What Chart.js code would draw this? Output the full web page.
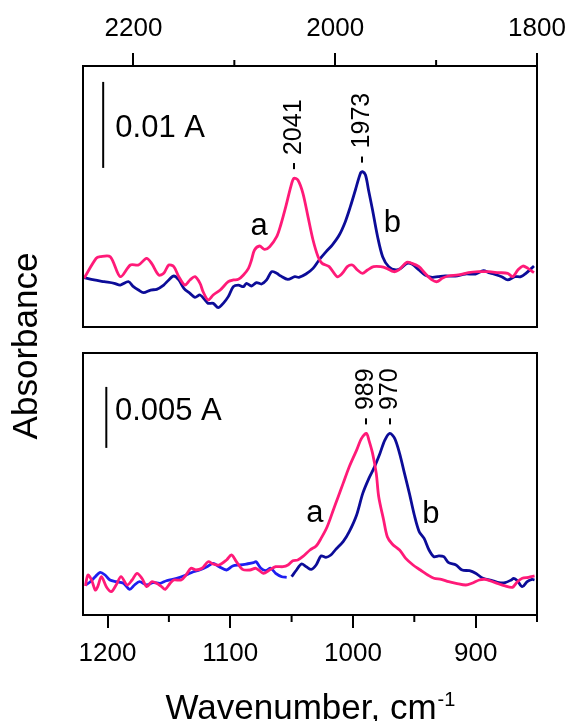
<!DOCTYPE html>
<html>
<head>
<meta charset="utf-8">
<title>IR difference spectra</title>
<script src="https://cdn.jsdelivr.net/npm/chart.js@4.4.0/dist/chart.umd.min.js"></script>
<style>
  html, body { margin: 0; padding: 0; background: #fff; }
  #wrap { position: relative; width: 568px; height: 721px; overflow: hidden; }
  #bottomBox { position: absolute; left: 0; top: 0; width: 568px; height: 721px; }
  #topBox { position: absolute; left: 0; top: 0; width: 568px; height: 340px; }
</style>
</head>
<body>
<div id="wrap">
  <div id="bottomBox"><canvas id="bottomChart"></canvas></div>
  <div id="topBox"><canvas id="topChart"></canvas></div>
</div>
<script>
// Absorbance in mA (1 mA = 0.001 A), wavenumbers in cm-1

// Upper panel, 2250-1800 cm-1
const topWnA = [2249, 2237, 2233, 2223, 2213, 2203, 2195, 2187, 2182, 2175, 2170, 2165, 2160, 2155, 2149, 2144, 2139, 2134, 2131, 2126, 2121, 2114, 2106, 2101, 2096, 2091, 2086, 2083, 2080, 2075, 2070, 2065, 2058, 2054, 2049, 2044, 2041, 2037, 2032, 2027, 2022, 2017, 2013, 2006, 1998, 1993, 1988, 1983, 1978, 1973, 1968, 1962, 1955, 1949, 1942, 1937, 1929, 1924, 1917, 1911, 1904, 1899, 1894, 1888, 1878, 1868, 1858, 1848, 1838, 1829, 1824, 1819, 1814, 1809, 1803];
const topAbsA = [5.66, 7.98, 8.18, 8.18, 5.85, 7.21, 7.21, 7.98, 7.4, 6.05, 6.24, 7.21, 7.02, 5.85, 4.88, 5.47, 5.85, 5.08, 4.11, 3.14, 3.72, 4.3, 5.27, 5.47, 5.54, 6.05, 6.82, 7.79, 8.95, 9.42, 9.03, 9.34, 10.5, 11.86, 13.99, 16.32, 17.29, 17.09, 15.54, 12.83, 10.12, 8.18, 7.4, 7.02, 5.85, 6.24, 7.02, 7.21, 6.63, 6.24, 6.63, 7.02, 7.02, 6.82, 6.43, 6.63, 7.52, 7.4, 7.02, 6.24, 5.47, 5.27, 5.66, 5.93, 6.05, 6.32, 6.43, 6.43, 6.32, 6.24, 5.85, 6.63, 7.09, 6.82, 6.32];

const topWnB = [2249, 2239, 2229, 2219, 2213, 2205, 2200, 2195, 2190, 2183, 2177, 2170, 2165, 2160, 2155, 2150, 2144, 2139, 2134, 2129, 2126, 2121, 2116, 2111, 2106, 2101, 2096, 2091, 2088, 2083, 2078, 2073, 2068, 2063, 2058, 2054, 2047, 2040, 2036, 2029, 2022, 2016, 2009, 2003, 1996, 1990, 1985, 1980, 1975, 1973, 1970, 1967, 1963, 1958, 1953, 1947, 1940, 1935, 1929, 1924, 1917, 1911, 1904, 1898, 1891, 1881, 1871, 1861, 1853, 1848, 1843, 1835, 1829, 1822, 1816, 1811, 1803];
const topAbsB = [5.74, 5.47, 5.27, 5.08, 4.88, 5.27, 4.69, 4.3, 3.99, 4.3, 4.38, 4.88, 5.47, 5.93, 5.47, 4.5, 3.92, 3.45, 3.72, 3.14, 2.75, 2.75, 2.25, 2.75, 3.53, 4.69, 4.88, 4.69, 5.08, 4.77, 5.16, 5.0, 5.47, 6.43, 6.24, 5.93, 5.54, 5.85, 5.78, 6.16, 6.82, 7.79, 8.76, 9.53, 10.7, 12.25, 13.99, 15.93, 17.87, 18.06, 17.67, 15.93, 13.6, 10.5, 8.18, 7.02, 6.63, 6.82, 7.4, 7.33, 6.63, 6.05, 5.78, 5.85, 5.93, 5.93, 6.16, 6.16, 6.55, 6.32, 6.16, 5.85, 5.47, 5.85, 5.85, 6.24, 7.09];

// Lower panel, 1220-850 cm-1
const botWnA = [1218, 1216, 1213, 1210, 1208, 1205, 1201, 1197, 1193, 1189, 1184, 1180, 1176, 1172, 1168, 1164, 1160, 1156, 1153, 1149, 1146, 1140, 1136, 1132, 1128, 1123, 1118, 1114, 1109, 1103, 1099, 1095, 1090, 1084, 1079, 1073, 1068, 1063, 1057, 1053, 1049, 1045, 1041, 1035, 1030, 1026, 1021, 1016, 1012, 1008, 1003, 997, 993, 989, 987, 984, 981, 979, 975, 972, 968, 962, 957, 951, 945, 939, 934, 928, 922, 916, 908, 903, 897, 892, 884, 876, 870, 866, 862, 857, 852];
const botAbsA = [2.38, 3.28, 2.87, 2.05, 2.32, 3.14, 2.32, 1.91, 2.46, 3.14, 2.46, 2.87, 3.42, 3.01, 2.32, 2.73, 2.6, 2.32, 2.1, 2.6, 2.87, 2.87, 3.28, 3.83, 3.69, 3.83, 4.37, 4.18, 4.1, 4.51, 4.92, 4.37, 3.74, 3.69, 3.83, 3.42, 3.69, 3.96, 3.96, 4.1, 4.45, 4.51, 4.78, 5.33, 5.66, 6.28, 7.24, 8.61, 9.7, 10.79, 12.16, 13.52, 14.48, 14.89, 14.34, 13.25, 11.61, 9.7, 7.79, 6.42, 5.82, 5.33, 4.64, 4.1, 3.69, 3.28, 3.01, 2.92, 2.73, 2.6, 2.46, 2.6, 2.87, 2.92, 2.65, 2.38, 2.27, 2.73, 3.01, 3.09, 3.2];

// spectrum b was spliced from two scans; the high-wavenumber piece is the lighter blue
const botWnB1 = [1218, 1214, 1210, 1206, 1202, 1198, 1193, 1187, 1182, 1178, 1174, 1168, 1163, 1157, 1152, 1147, 1141, 1136, 1130, 1125, 1119, 1114, 1109, 1103, 1098, 1092, 1087, 1081, 1079, 1075, 1071, 1067, 1063, 1058, 1054];
const botAbsB1 = [2.46, 2.73, 3.14, 3.5, 3.28, 2.87, 2.73, 2.6, 2.1, 2.46, 2.73, 2.46, 2.65, 2.6, 2.81, 2.92, 3.09, 3.28, 3.55, 3.69, 3.96, 4.24, 3.96, 3.69, 4.02, 4.1, 4.18, 4.29, 4.37, 3.83, 3.63, 3.83, 3.42, 3.14, 3.09];
const botWnB2 = [1050, 1046, 1042, 1038, 1034, 1030, 1026, 1022, 1018, 1014, 1008, 1003, 997, 992, 987, 983, 978, 974, 970, 966, 962, 958, 954, 950, 946, 942, 938, 934, 930, 926, 922, 916, 911, 905, 900, 894, 886, 881, 876, 871, 869, 866, 862, 858, 854, 852];
const botAbsB2 = [3.14, 3.69, 4.18, 3.96, 3.74, 4.1, 4.84, 4.73, 4.92, 5.38, 6.01, 6.83, 8.2, 9.97, 11.2, 12.02, 13.25, 14.34, 14.89, 14.48, 13.25, 11.61, 9.97, 8.2, 6.83, 6.28, 5.33, 4.78, 4.84, 4.78, 4.29, 4.1, 3.69, 3.63, 3.42, 3.01, 2.81, 2.65, 2.65, 2.87, 3.01, 2.81, 2.32, 2.73, 2.92, 2.87];

// axis ticks
const topMajorTicks = [1800, 2000, 2200];
const topMinorTicks = [1900, 2100];
const botMajorTicks = [900, 1000, 1100, 1200];
const botMinorTicks = [850, 950, 1050, 1150];

// peak positions and heights
const topPeakWn = [2041, 1973];
const topPeakAbs = [17.29, 18.06];
const botPeakWn = [989, 970];
const botPeakAbs = [14.89, 14.89];

const FONT = "'Liberation Sans', Arial, Helvetica, sans-serif";
const PINK = '#ff1a78';
const NAVY = '#0c0c98';
const BLUE = '#1e1ef0';

function series(xs, ys) {
  return xs.map((x, i) => ({ x: x, y: ys[i] }));
}

function lineSet(label, xs, ys, color) {
  return {
    label: label,
    data: series(xs, ys),
    borderColor: color,
    borderWidth: 2.8,
    pointRadius: 0,
    tension: 0.3,
    showLine: true,
    fill: false,
  };
}

// frame, minor ticks, scale bar and text labels for one panel
function panelPlugin(cfg) {
  return {
    id: 'panel_' + cfg.name,
    afterDatasetsDraw(chart) {
      const ctx = chart.ctx;
      const a = chart.chartArea;
      const x = chart.scales.x;
      const y = chart.scales.y;
      ctx.save();
      ctx.strokeStyle = '#000';
      ctx.fillStyle = '#000';
      ctx.lineWidth = 2;
      ctx.strokeRect(a.left, a.top, a.right - a.left, a.bottom - a.top);

      cfg.minorTicks.forEach((v) => {
        const px = x.getPixelForValue(v);
        ctx.beginPath();
        if (cfg.side === 'top') {
          ctx.moveTo(px, a.top);
          ctx.lineTo(px, a.top - 6);
        } else {
          ctx.moveTo(px, a.bottom);
          ctx.lineTo(px, a.bottom + 7);
        }
        ctx.stroke();
      });

      // absorbance scale bar
      const bx = x.getPixelForValue(cfg.barWn);
      ctx.beginPath();
      ctx.moveTo(bx, y.getPixelForValue(cfg.barFrom));
      ctx.lineTo(bx, y.getPixelForValue(cfg.barFrom + cfg.barSize));
      ctx.stroke();

      ctx.textAlign = 'left';
      ctx.textBaseline = 'alphabetic';
      ctx.font = '31px ' + FONT;
      cfg.notes.forEach((n) => {
        ctx.fillText(n.text, x.getPixelForValue(n.wn), y.getPixelForValue(n.abs));
      });

      // rotated peak labels
      ctx.font = '25px ' + FONT;
      cfg.peakWn.forEach((wn, i) => {
        const px = x.getPixelForValue(wn);
        const py = y.getPixelForValue(cfg.peakAbs[i]);
        ctx.save();
        ctx.translate(px + 7, py - 8);
        ctx.rotate(-Math.PI / 2);
        ctx.fillText('- ' + wn, 0, 0);
        ctx.restore();
      });

      if (cfg.titles) {
        ctx.font = '35px ' + FONT;
        const main = 'Wavenumber, cm';
        const w1 = ctx.measureText(main).width;
        ctx.font = '20px ' + FONT;
        const w2 = ctx.measureText('-1').width;
        const cx = (a.left + a.right) / 2;
        const start = cx - (w1 + w2) / 2;
        ctx.font = '35px ' + FONT;
        ctx.fillText(main, start, 719);
        ctx.font = '20px ' + FONT;
        ctx.fillText('-1', start + w1 + 1, 706);

        ctx.save();
        ctx.translate(27, 346);
        ctx.rotate(-Math.PI / 2);
        ctx.font = '35px ' + FONT;
        ctx.textAlign = 'center';
        ctx.textBaseline = 'middle';
        ctx.fillText('Absorbance', 0, 0);
        ctx.restore();
      }
      ctx.restore();
    },
  };
}

function xAxis(cfg) {
  return {
    type: 'linear',
    position: cfg.side,
    reverse: true,
    min: cfg.min,
    max: cfg.max,
    afterBuildTicks: (s) => {
      s.ticks = cfg.ticks.map((v) => ({ value: v }));
    },
    afterFit: (s) => {
      s.height = cfg.height;
    },
    border: { display: false },
    grid: {
      drawOnChartArea: false,
      drawTicks: true,
      tickLength: 13,
      lineWidth: 2,
      color: '#000',
    },
    ticks: {
      autoSkip: false,
      maxRotation: 0,
      padding: cfg.padding,
      color: '#000',
      font: { family: FONT, size: 26 },
      callback: (v) => String(v),
    },
  };
}

const baseOptions = {
  responsive: true,
  maintainAspectRatio: false,
  animation: false,
  plugins: { legend: { display: false }, tooltip: { enabled: false } },
};

new Chart(document.getElementById('topChart'), {
  type: 'scatter',
  data: {
    datasets: [
      lineSet('a', topWnA, topAbsA, PINK),
      lineSet('b', topWnB, topAbsB, NAVY),
    ],
  },
  options: Object.assign({}, baseOptions, {
    layout: { padding: { left: 83, right: 31, top: 0, bottom: 13 } },
    scales: {
      x: xAxis({ side: 'top', min: 1800, max: 2250, ticks: topMajorTicks, height: 66, padding: 9 }),
      y: { display: false, min: 0, max: 30.35 },
    },
  }),
  plugins: [
    panelPlugin({
      name: 'top',
      side: 'top',
      minorTicks: topMinorTicks,
      barWn: 2230,
      barFrom: 18.5,
      barSize: 10,
      notes: [
        { text: '0.01 A', wn: 2218, abs: 22.1 },
        { text: 'a', wn: 2084, abs: 10.7 },
        { text: 'b', wn: 1952, abs: 11.05 },
      ],
      peakWn: topPeakWn,
      peakAbs: topPeakAbs,
    }),
  ],
});

new Chart(document.getElementById('bottomChart'), {
  type: 'scatter',
  data: {
    datasets: [
      lineSet('a', botWnA, botAbsA, PINK),
      lineSet('b', botWnB1, botAbsB1, BLUE),
      lineSet('b', botWnB2, botAbsB2, NAVY),
    ],
  },
  options: Object.assign({}, baseOptions, {
    layout: { padding: { left: 83, right: 31, top: 353, bottom: 50 } },
    scales: {
      x: xAxis({ side: 'bottom', min: 850, max: 1220, ticks: botMajorTicks, height: 56, padding: 10 }),
      y: { display: false, min: 0, max: 21.48 },
    },
  }),
  plugins: [
    panelPlugin({
      name: 'bottom',
      side: 'bottom',
      minorTicks: botMinorTicks,
      barWn: 1201,
      barFrom: 13.7,
      barSize: 5,
      notes: [
        { text: '0.005 A', wn: 1194, abs: 15.98 },
        { text: 'a', wn: 1038, abs: 7.62 },
        { text: 'b', wn: 943.5, abs: 7.54 },
      ],
      peakWn: botPeakWn,
      peakAbs: botPeakAbs,
      titles: true,
    }),
  ],
});
</script>
</body>
</html>
